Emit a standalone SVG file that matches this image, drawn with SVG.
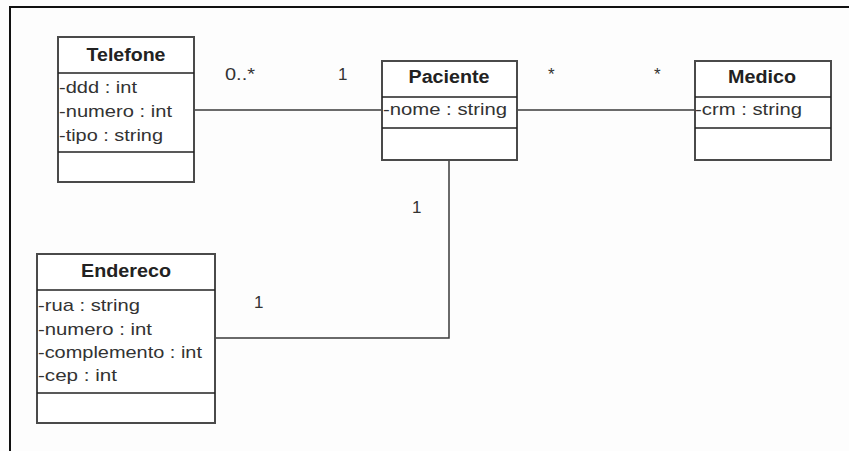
<svg xmlns="http://www.w3.org/2000/svg" width="849" height="451" viewBox="0 0 849 451">
<style>
.box{fill:#ffffff;stroke:#4a4a4a;stroke-width:2}
.div{stroke:#222;stroke-width:1.5}
.t{font-family:"Liberation Sans",Arial,sans-serif;font-size:18px;font-weight:bold;fill:#222;text-anchor:middle}
.a{font-family:"Liberation Sans",Arial,sans-serif;font-size:17px;fill:#333}
.l{font-family:"Liberation Sans",Arial,sans-serif;font-size:17px;fill:#333}
.c{fill:none;stroke:#3a3a3a;stroke-width:1.5}
</style>
<rect x="0" y="0" width="849" height="451" fill="#fdfdfd"/>
<path d="M10 451 V7 H849" fill="none" stroke="#111" stroke-width="2"/>
<g id="connectors">
<line class="c" x1="194" y1="110" x2="382" y2="110"/>
<line class="c" x1="517" y1="110" x2="695" y2="110"/>
<polyline class="c" points="449,160 449,338 215,338"/>
<text class="l" x="225" y="80" textLength="30" lengthAdjust="spacingAndGlyphs">0..*</text>
<text class="l" x="338" y="80">1</text>
<text class="l" x="548" y="80">*</text>
<text class="l" x="654" y="80">*</text>
<text class="l" x="412" y="213">1</text>
<text class="l" x="254" y="308">1</text>
</g>
<g id="Telefone">
<rect class="box" x="58" y="37" width="136" height="145"/>
<line class="div" x1="58" y1="73" x2="194" y2="73"/>
<line class="div" x1="58" y1="152" x2="194" y2="152"/>
<text class="t" x="126" y="61" textLength="79" lengthAdjust="spacingAndGlyphs">Telefone</text>
<text class="a" x="59" y="93" textLength="78" lengthAdjust="spacingAndGlyphs">-ddd : int</text>
<text class="a" x="59" y="117" textLength="113" lengthAdjust="spacingAndGlyphs">-numero : int</text>
<text class="a" x="59" y="141" textLength="104" lengthAdjust="spacingAndGlyphs">-tipo : string</text>
</g>
<g id="Paciente">
<rect class="box" x="382" y="61" width="135" height="99"/>
<line class="div" x1="382" y1="97" x2="517" y2="97"/>
<line class="div" x1="382" y1="128" x2="517" y2="128"/>
<text class="t" x="449" y="83" textLength="81" lengthAdjust="spacingAndGlyphs">Paciente</text>
<text class="a" x="383" y="115" textLength="124" lengthAdjust="spacingAndGlyphs">-nome : string</text>
</g>
<g id="Medico">
<rect class="box" x="695" y="61" width="136" height="99"/>
<line class="div" x1="695" y1="97" x2="831" y2="97"/>
<line class="div" x1="695" y1="128" x2="831" y2="128"/>
<text class="t" x="762" y="83" textLength="68" lengthAdjust="spacingAndGlyphs">Medico</text>
<text class="a" x="695" y="115" textLength="107" lengthAdjust="spacingAndGlyphs">-crm : string</text>
</g>
<g id="Endereco">
<rect class="box" x="37" y="254" width="178" height="169"/>
<line class="div" x1="37" y1="290" x2="215" y2="290"/>
<line class="div" x1="37" y1="393" x2="215" y2="393"/>
<text class="t" x="126" y="277" textLength="90" lengthAdjust="spacingAndGlyphs">Endereco</text>
<text class="a" x="38" y="311" textLength="102" lengthAdjust="spacingAndGlyphs">-rua : string</text>
<text class="a" x="38" y="335" textLength="114" lengthAdjust="spacingAndGlyphs">-numero : int</text>
<text class="a" x="38" y="358" textLength="164" lengthAdjust="spacingAndGlyphs">-complemento : int</text>
<text class="a" x="38" y="381" textLength="79" lengthAdjust="spacingAndGlyphs">-cep : int</text>
</g>
</svg>
